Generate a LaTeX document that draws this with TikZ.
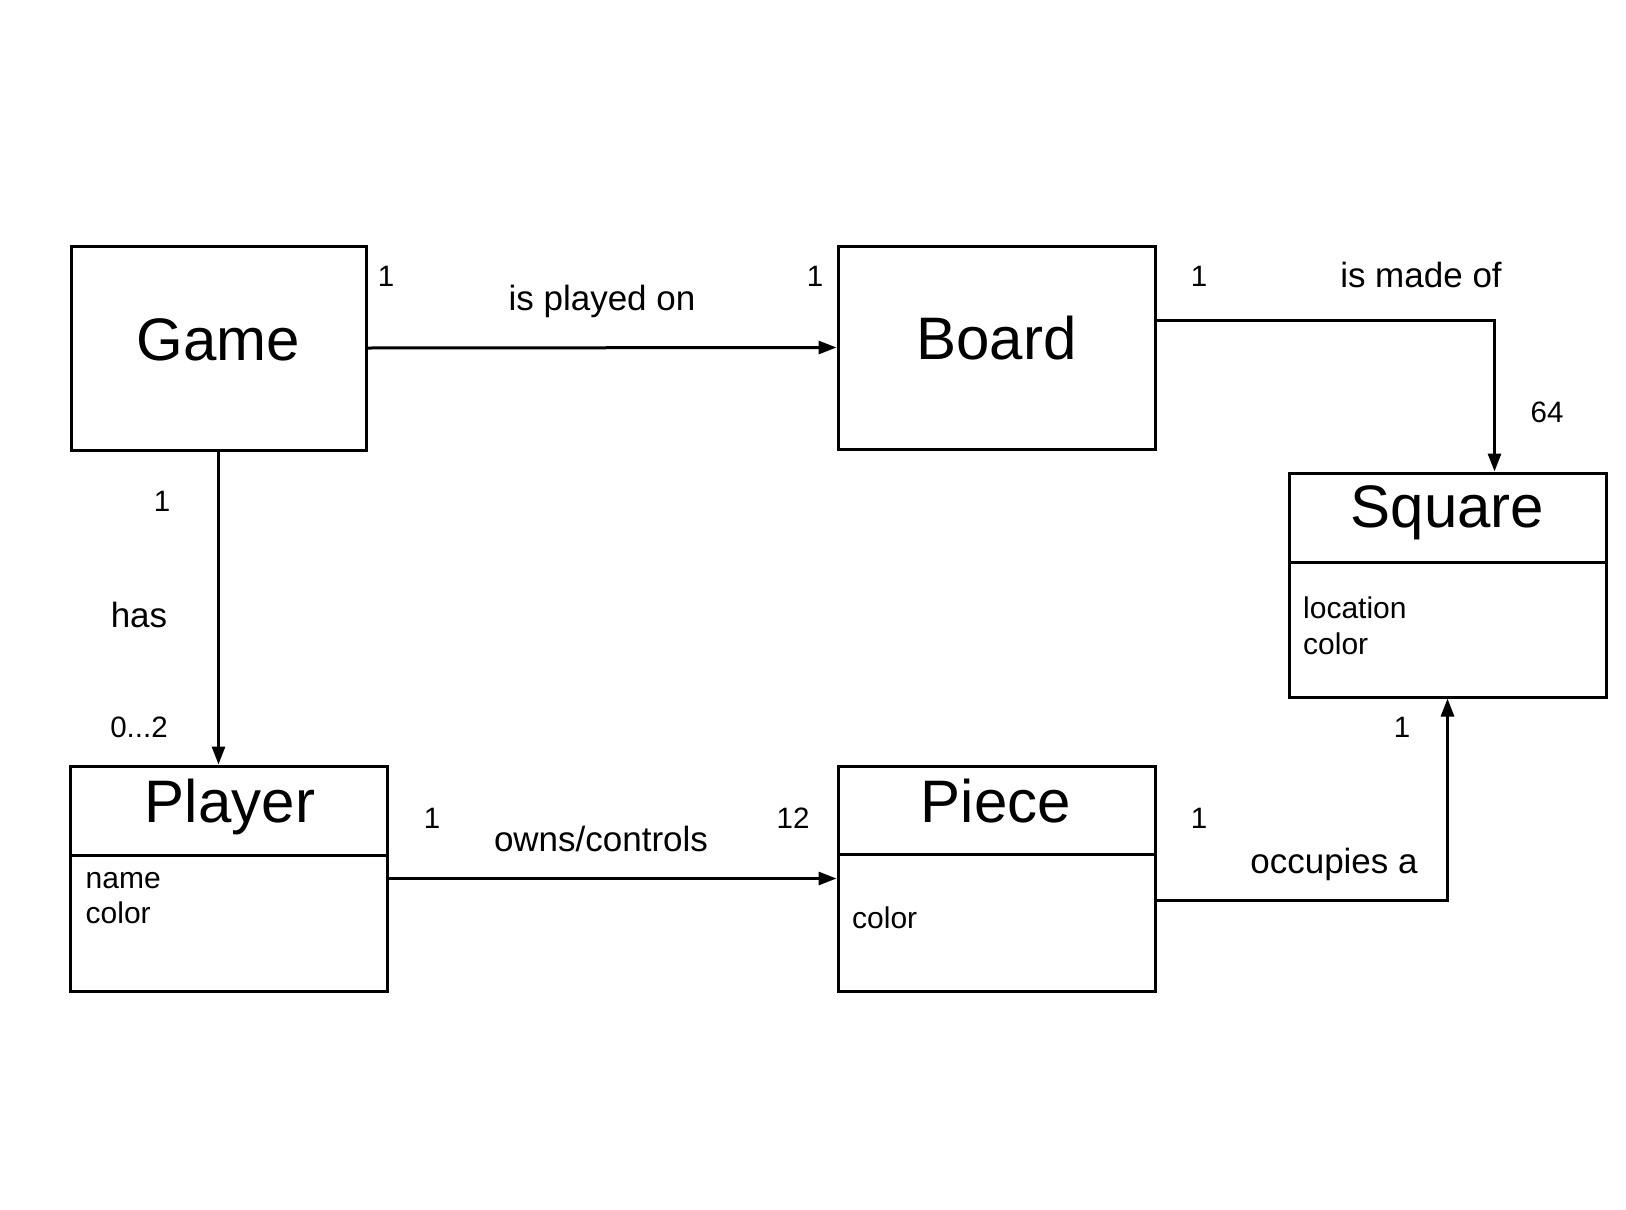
\documentclass[tikz,border=0pt]{standalone}
\usepackage{fontspec}
\setmainfont{Liberation Sans}
\usetikzlibrary{arrows.meta,calc}
\begin{document}
\begin{tikzpicture}[x=1pt,y=-1pt,
  box/.style={draw,line width=3pt,inner sep=0pt,rectangle},
  conn/.style={line width=3pt},
  arr/.style={conn,-{Triangle[length=18pt,width=13pt]}},
  ttl/.style={anchor=base,inner sep=0pt,font=\fontsize{60}{62}\selectfont},
  lbl/.style={anchor=base,inner sep=0pt,font=\fontsize{35}{37}\selectfont},
  mul/.style={anchor=base,inner sep=0pt,font=\fontsize{29.5}{31}\selectfont},
  att/.style={anchor=base west,inner sep=0pt,font=\fontsize{30}{32}\selectfont}]
\useasboundingbox[fill=white] (0,0) rectangle (1626,1210);

% boxes
\node[box,minimum width=295pt,minimum height=204pt] (game) at (218.5,348) {};
\node[box,minimum width=317pt,minimum height=203pt] (board) at (996.5,347.5) {};
\node[box,minimum width=317pt,minimum height=224pt] (square) at (1447.5,585) {};
\node[box,minimum width=316.5pt,minimum height=225pt] (player) at (229,878.5) {};
\node[box,minimum width=317pt,minimum height=225pt] (piece) at (996.5,878.5) {};

% dividers
\draw[conn] (square.west |- 0,562) -- (square.east |- 0,562);
\draw[conn] (player.west |- 0,855) -- (player.east |- 0,855);
\draw[conn] (piece.west |- 0,854) -- (piece.east |- 0,854);

% titles
\node[ttl] (tgame) at (218.5,360) {Game};
\node[ttl] (tboard) at (996.5,359) {Board};
\node[ttl] (tsquare) at (1447.5,527) {Square};
\node[ttl] (tplayer) at (230,822) {Player};
\node[ttl] (tpiece) at (996,822) {Piece};

% attributes
\node[att] (a1) at (85.5,888) {name};
\node[att] (a2) at (85.5,923) {color};
\node[att] (a3) at (1303,618) {location};
\node[att] (a4) at (1303,654) {color};
\node[att] (a5) at (852,928) {color};

% connectors
\draw[arr] (game.east) -- (board.west);
\draw[arr] ($(board.east)+(0,-27.5)$) -| ($(square.north)+(47,0)$);
\draw[arr] (game.south) -- (game.south |- player.north);
\draw[arr] (player.east) -- (piece.west);
\draw[arr] ($(piece.east)+(0,21.5)$) -| (square.south);

% labels
\node[mul] (m1) at (386,286) {1};
\node[mul] (m2) at (815,286) {1};
\node[lbl] (l1) at (602,310) {is played on};
\node[mul] (m3) at (1199,286) {1};
\node[lbl] (l2) at (1421,287) {is made of};
\node[mul] (m4) at (1547,422) {64};
\node[mul] (m5) at (162,511) {1};
\node[lbl] (l3) at (139,627) {has};
\node[mul] (m6) at (139,737) {0...2};
\node[mul] (m7) at (432,828) {1};
\node[mul] (m8) at (793,828) {12};
\node[lbl] (l4) at (601,851) {owns/controls};
\node[mul] (m9) at (1199,828) {1};
\node[lbl] (l5) at (1334,873) {occupies a};
\node[mul] (m10) at (1402,737) {1};
\end{tikzpicture}
\end{document}
